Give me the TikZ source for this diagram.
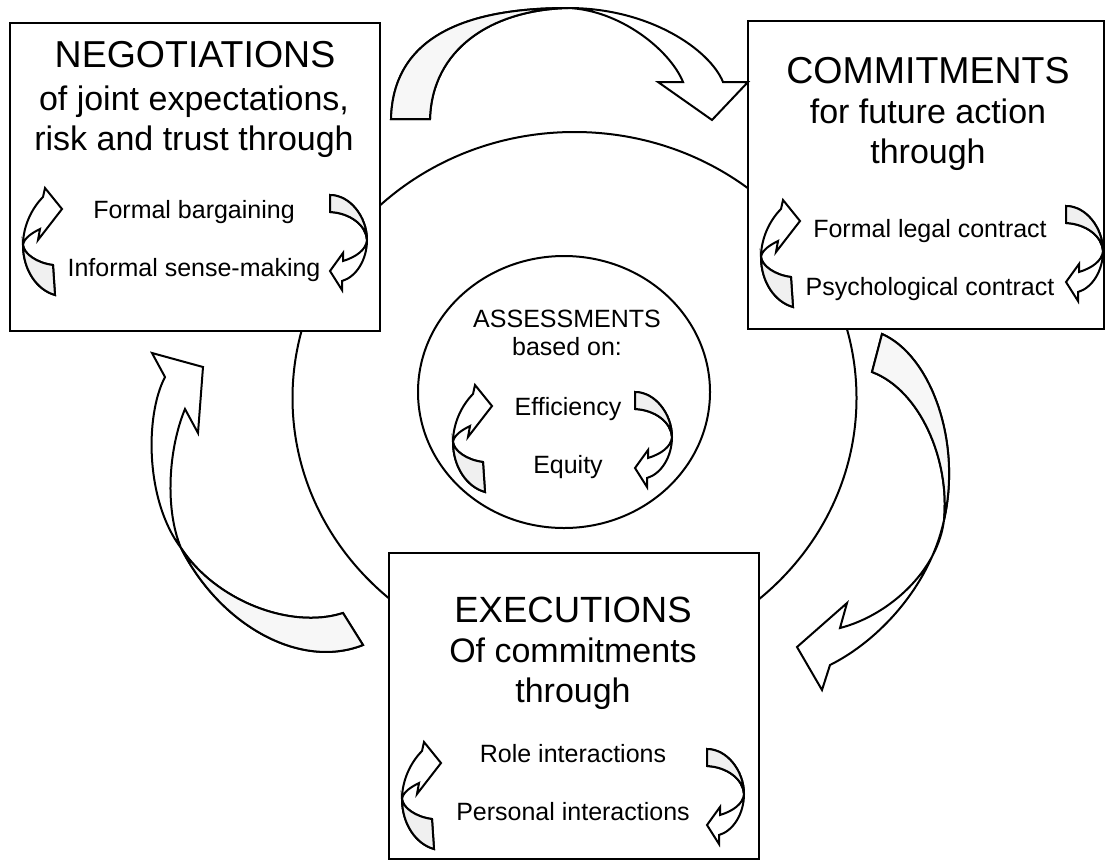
\documentclass[tikz,border=0pt]{standalone}
\usepackage{fontspec}
\setmainfont{Liberation Sans}
\usetikzlibrary{shapes.geometric}
\begin{document}
\begin{tikzpicture}[x=1pt,y=-1pt,
  boxline/.style={draw=black, line width=2.3pt, fill=white, rectangle, inner sep=0pt, anchor=north west},
  ringline/.style={draw=black, line width=2pt, ellipse, inner sep=0pt},
  arrowline/.style={draw=black, line width=2pt, line join=miter, fill=white},
  tailshade/.style={draw=black, line width=2pt, line join=miter, fill=black!6},
  headtxt/.style={font=\fontsize{37.5}{40}\selectfont, anchor=base, inner sep=0pt},
  subtxt/.style={font=\fontsize{34}{38}\selectfont, anchor=base, inner sep=0pt},
  itemtxt/.style={font=\fontsize{25}{28}\selectfont, anchor=base, inner sep=0pt},
  % small cycle arrow on the left of a pair: tail at the bottom, head pointing right
  swirlleft/.pic={
    \path[arrowline] (21,9) .. controls (10,20) and (1,38) .. (1,57)
      .. controls (1,82) and (15,102) .. (33,107) -- (31,77)
      .. controls (15,75) and (2,66) .. (1,57)
      .. controls (2,50) and (10,45) .. (18,41) -- (16,52) -- (40,21) -- (23,0) -- cycle;
    \path[tailshade] (1,57) .. controls (1,82) and (15,102) .. (33,107) -- (31,77)
      .. controls (15,75) and (2,66) .. (1,57) -- cycle;
  },
  % small cycle arrow on the right of a pair: tail at the top, head pointing left
  swirlright/.pic={
    \path[arrowline] (0,0) .. controls (20,0) and (37,22) .. (37,45)
      .. controls (37,65) and (26,82) .. (12,86) -- (12,95) -- (0,76) -- (13,58) -- (13,66)
      .. controls (26,62) and (36,55) .. (37,45)
      .. controls (36,30) and (20,18) .. (0,17) -- cycle;
    \path[tailshade] (0,0) .. controls (20,0) and (37,22) .. (37,45)
      .. controls (36,30) and (20,18) .. (0,17) -- cycle;
  },
]
\useasboundingbox (0,0) rectangle (1105,860);
\fill[white] (0,0) rectangle (1105,860);

% the large ring behind the three stages
\node[ringline, minimum width=564pt, minimum height=532pt] (ring) at (574.5,398) {};

% stage boxes
\node[boxline, minimum width=370pt, minimum height=308pt] (neg) at (9,22) {};
\node[boxline, minimum width=356pt, minimum height=308pt] (com) at (747,20) {};
\node[boxline, minimum width=370pt, minimum height=306pt] (exe) at (388,552) {};

% assessment ellipse in the middle
\node[ringline, minimum width=292pt, minimum height=272pt] (asm) at (564,392) {};

% large arrow: negotiations -> commitments
\path[arrowline] (391,119) .. controls (393,40) and (460,8) .. (568,8)
  .. controls (650,8) and (710,50) .. (723,82) -- (748,82) -- (712,120) -- (658,82) -- (683,82)
  .. controls (670,50) and (620,10) .. (568,8)
  .. controls (490,10) and (432,50) .. (430,119) -- cycle;
\path[tailshade, fill=black!3] (391,119) .. controls (393,40) and (460,8) .. (568,8)
  .. controls (490,10) and (432,50) .. (430,119) -- cycle;

% large arrow: commitments -> executions
\path[arrowline] (882,334) .. controls (930,355) and (962,440) .. (944,520)
  .. controls (930,585) and (880,640) .. (830,665) -- (822,690) -- (797,647) -- (847,603) -- (840,628)
  .. controls (890,615) and (938,570) .. (944,520)
  .. controls (950,460) and (920,390) .. (872,372) -- cycle;
\path[tailshade, fill=black!3] (882,334) .. controls (930,355) and (962,440) .. (944,520)
  .. controls (950,460) and (920,390) .. (872,372) -- cycle;

% large arrow: executions -> negotiations
\path[arrowline] (165,377) .. controls (145,415) and (145,500) .. (181,548)
  .. controls (215,600) and (290,630) .. (343,613) -- (363,645)
  .. controls (300,670) and (220,625) .. (181,548)
  .. controls (165,510) and (168,450) .. (185,409) -- (198,433) -- (203,367) -- (152,353) -- cycle;
\path[tailshade, fill=black!3] (181,548) .. controls (215,600) and (290,630) .. (343,613) -- (363,645)
  .. controls (300,670) and (220,625) .. (181,548) -- cycle;

% texts: negotiations
\node[headtxt] (negT) at (195,67) {NEGOTIATIONS};
\node[subtxt] (negS1) at (194,110) {of joint expectations,};
\node[subtxt] (negS2) at (194,150) {risk and trust through};
\node[itemtxt] (negA) at (194,218) {Formal bargaining};
\node[itemtxt] (negB) at (194,276) {Informal sense-making};
\pic at (22,188) {swirlleft};
\pic at (330,195) {swirlright};

% texts: commitments
\node[headtxt] (comT) at (928,83) {COMMITMENTS};
\node[subtxt] (comS1) at (928,123) {for future action};
\node[subtxt] (comS2) at (928,163) {through};
\node[itemtxt] (comA) at (930,237) {Formal legal contract};
\node[itemtxt] (comB) at (930,295) {Psychological contract};
\pic at (760,200) {swirlleft};
\pic at (1066,206) {swirlright};

% texts: executions
\node[headtxt, font=\fontsize{36.5}{40}\selectfont] (exeT) at (573,622) {EXECUTIONS};
\node[subtxt] (exeS1) at (573,662) {Of commitments};
\node[subtxt] (exeS2) at (573,702) {through};
\node[itemtxt] (exeA) at (573,762) {Role interactions};
\node[itemtxt] (exeB) at (573,820) {Personal interactions};
\pic at (401,742) {swirlleft};
\pic at (707,749) {swirlright};

% texts: assessments
\node[itemtxt] (asmT) at (567,327) {ASSESSMENTS};
\node[itemtxt] (asmS) at (567,355) {based on:};
\node[itemtxt] (asmA) at (568,415) {Efficiency};
\node[itemtxt] (asmB) at (568,473) {Equity};
\pic at (452,385) {swirlleft};
\pic at (635,392) {swirlright};
\end{tikzpicture}
\end{document}
